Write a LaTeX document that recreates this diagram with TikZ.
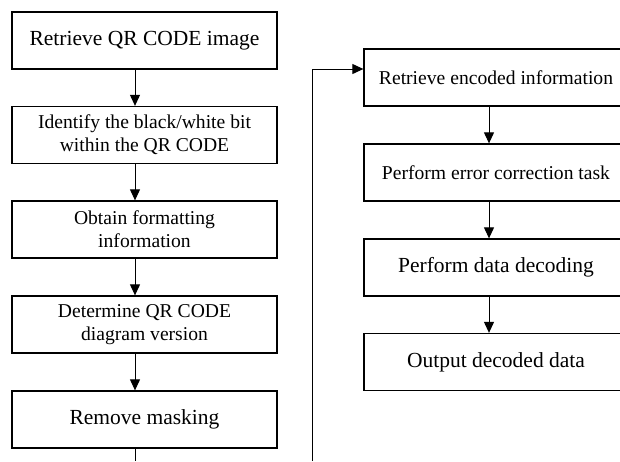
\documentclass[tikz,border=0pt]{standalone}
\usepackage{fontspec}
\setmainfont{Liberation Serif}
\usetikzlibrary{arrows.meta}
\begin{document}
\begin{tikzpicture}[x=1pt,y=-1pt,
 box/.style={draw,line width=1.3pt,minimum width=265pt,minimum height=57pt,align=center,inner sep=0pt},
 big/.style={font=\fontsize{21.5}{25}\selectfont},
 small/.style={font=\fontsize{19.6}{23}\selectfont},
 link/.style={line width=1pt,-{Triangle[length=11pt,width=10pt]}},
 plain/.style={line width=1pt}]
\useasboundingbox (0,0) rectangle (620,461);
\fill[white] (0,0) rectangle (620,461);
\clip (0,0) rectangle (620,461);
% left column
\node[box,big]   (l1) at (144.5,40.5)  {Retrieve QR CODE image};
\node[box,small] (l2) at (144.5,135)   {Identify the black/white bit\\within the QR CODE};
\node[box,small] (l3) at (144.5,229.5) {Obtain formatting\\information};
\node[box,small] (l4) at (144.5,324.5) {Determine QR CODE\\diagram version};
\node[box,big]   (l5) at (144.5,419.5) {Remove masking};
% right column
\node[box,small,minimum width=264pt] (r1) at (496,77.5)  {Retrieve encoded information};
\node[box,small,minimum width=264pt] (r2) at (496,172.5) {Perform error correction task};
\node[box,big,minimum width=264pt]   (r3) at (496,267.5) {Perform data decoding};
\node[box,big,minimum width=264pt]   (r4) at (496,362)   {Output decoded data};
% guide coordinates
\coordinate (lx) at (135,0);
\coordinate (rx) at (489,0);
\coordinate (loopy) at (0,69);
\coordinate (loopstart) at (312,461);
\coordinate (lend) at (135,461);
% connectors
\draw[link] (l1.south -| lx) -- (l2.north -| lx);
\draw[link] (l2.south -| lx) -- (l3.north -| lx);
\draw[link] (l3.south -| lx) -- (l4.north -| lx);
\draw[link] (l4.south -| lx) -- (l5.north -| lx);
\draw[plain] (l5.south -| lx) -- (lend);
\draw[link] (loopstart) |- (r1.west |- loopy);
\draw[link] (r1.south -| rx) -- (r2.north -| rx);
\draw[link] (r2.south -| rx) -- (r3.north -| rx);
\draw[link] (r3.south -| rx) -- (r4.north -| rx);
\end{tikzpicture}
\end{document}
